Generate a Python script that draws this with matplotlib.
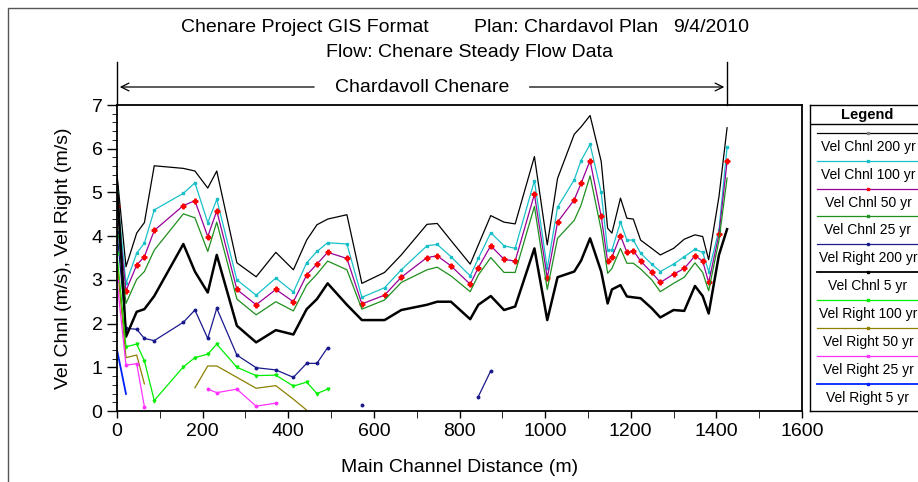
import matplotlib
matplotlib.use("Agg")
import matplotlib.pyplot as plt
from matplotlib.lines import Line2D
import numpy as np

plt.rcParams['font.family'] = ['Liberation Sans', 'DejaVu Sans']

nan = np.nan

# river stations (m)
dist = [0, 21, 46, 64, 87, 155, 182, 212, 233, 280, 325, 371, 412, 443, 467, 492, 537, 572,
        625, 664, 724, 748, 780, 825, 844, 873, 904, 930, 975, 1005, 1029, 1068, 1084, 1105,
        1131, 1146, 1156, 1176, 1191, 1206, 1223, 1249, 1269, 1300, 1325, 1350, 1368, 1382,
        1406, 1425]

chnl_200 = [5.42, 3.30, 4.07, 4.31, 5.61, 5.55, 5.49, 5.10, 5.49, 3.39, 3.07, 3.63, 3.23, 3.91,
            4.26, 4.39, 4.49, 2.92, 3.17, 3.57, 4.27, 4.29, 3.90, 3.36, 3.80, 4.47, 4.32, 4.28,
            5.82, 3.80, 5.32, 6.33, 6.50, 6.76, 5.71, 4.18, 4.07, 4.87, 4.41, 4.39, 3.91, 3.72,
            3.57, 3.72, 3.93, 4.03, 3.99, 3.46, 4.90, 6.48]
chnl_100 = [5.00, 2.92, 3.61, 3.84, 4.60, 4.98, 5.22, 4.31, 4.84, 3.00, 2.65, 3.04, 2.72, 3.39,
            3.65, 3.85, 3.82, 2.60, 2.82, 3.23, 3.78, 3.81, 3.53, 3.09, 3.49, 4.08, 3.78, 3.72,
            5.27, 3.26, 4.66, 5.29, 5.73, 6.10, 5.00, 3.68, 3.68, 4.32, 3.91, 3.91, 3.61, 3.36,
            3.19, 3.36, 3.53, 3.70, 3.63, 3.19, 4.14, 6.03]
chnl_50 = [4.68, 2.75, 3.34, 3.53, 4.13, 4.70, 4.81, 3.99, 4.58, 2.78, 2.43, 2.78, 2.50, 3.11,
           3.36, 3.63, 3.49, 2.45, 2.65, 3.06, 3.51, 3.55, 3.32, 2.90, 3.28, 3.78, 3.47, 3.43,
           4.96, 3.04, 4.32, 4.83, 5.21, 5.73, 4.45, 3.42, 3.52, 4.01, 3.63, 3.67, 3.43, 3.17,
           2.94, 3.13, 3.26, 3.55, 3.43, 2.94, 4.04, 5.71]
chnl_25 = [4.30, 2.46, 3.01, 3.19, 3.68, 4.51, 4.42, 3.65, 4.32, 2.56, 2.20, 2.50, 2.29, 2.88,
           3.13, 3.43, 3.23, 2.33, 2.54, 2.94, 3.23, 3.29, 3.09, 2.73, 3.11, 3.51, 3.17, 3.17,
           4.68, 2.78, 3.95, 4.36, 4.71, 5.38, 4.14, 3.15, 3.26, 3.72, 3.38, 3.38, 3.25, 3.00,
           2.73, 2.92, 3.06, 3.39, 3.17, 2.75, 3.90, 5.33]
chnl_5 = [5.20, 1.70, 2.27, 2.33, 2.63, 3.82, 3.19, 2.71, 3.57, 1.95, 1.57, 1.85, 1.75, 2.33,
          2.56, 2.92, 2.43, 2.08, 2.08, 2.31, 2.43, 2.50, 2.50, 2.10, 2.43, 2.63, 2.31, 2.39,
          3.72, 2.08, 3.06, 3.19, 3.44, 3.95, 3.19, 2.46, 2.78, 2.88, 2.62, 2.60, 2.58, 2.35,
          2.14, 2.31, 2.29, 2.86, 2.63, 2.23, 3.57, 4.16]

# right overbank velocities, nan where no flow
right_200 = ([4.10, 1.89, 1.87, 1.66, 1.61, 2.03, 2.31, 1.66, 2.35, 1.28, 0.99, 0.94, 0.77, 1.09,
              1.09, 1.45, nan, 0.14] + [nan] * 6 + [0.33, 0.92] + [nan] * 24)
right_100 = ([3.60, 1.47, 1.53, 1.15, 0.24, 1.01, 1.22, 1.30, 1.53, 1.00, 0.81, 0.82, 0.57, 0.66,
              0.40, 0.50] + [nan] * 34)
right_50 = ([3.40, 1.22, 1.28, 0.62, nan, nan, 0.53, 1.03, 1.03, 0.77, 0.52, 0.58, 0.27, 0.02]
            + [nan] * 36)
right_25 = ([2.98, 1.05, 1.08, 0.10, nan, nan, nan, 0.50, 0.42, 0.50, 0.11, 0.18] + [nan] * 38)
right_5 = [1.40, 0.39] + [nan] * 48

labels = ['Vel Chnl 200 yr', 'Vel Chnl 100 yr', 'Vel Chnl 50 yr', 'Vel Chnl 25 yr',
          'Vel Right 200 yr', 'Vel Chnl 5 yr', 'Vel Right 100 yr', 'Vel Right 50 yr',
          'Vel Right 25 yr', 'Vel Right 5 yr']
series = [chnl_200, chnl_100, chnl_50, chnl_25, right_200, chnl_5, right_100, right_50,
          right_25, right_5]
colors = ['black', '#19c0c8', '#990099', '#1f8f1f', '#1a1a8c', 'black', '#00ee00', '#8c8000',
          '#ff33ff', '#0022ff']
widths = [0.9, 0.9, 0.9, 0.9, 0.9, 1.8, 0.9, 0.9, 0.9, 1.3]
markers = ['', 's', 'P', '', 'o', '', 'v', '', 'o', '']
mcolors = ['grey', '#19c0c8', 'red', '#1f8f1f', '#1a1a8c', 'black', '#00ee00', '#8c8000',
           '#ff33ff', '#0022ff']
msizes = [0, 1.6, 3.4, 0, 1.8, 0, 2.0, 0, 1.8, 0]

fig = plt.figure(figsize=(9.18, 4.82), dpi=100)
W, H = 918, 482

# outer frame
fig.add_artist(plt.Rectangle((8 / W, -0.1), 1.0, 1 - 8 / H + 0.1, transform=fig.transFigure,
                             fill=False, ec='#555555', lw=1.0))

ax = fig.add_axes([117 / W, 71 / H, 685 / W, 306 / H])
for ys, lab, c, lw, mk, mc, ms in zip(series, labels, colors, widths, markers, mcolors, msizes):
    ax.plot(dist, ys, color=c, lw=lw, marker=mk if mk else None, ms=ms, mfc=mc, mec=mc,
            label=lab, clip_on=True)

ax.set_xlim(0, 1600)
ax.set_ylim(0, 7)
ax.set_xticks(np.arange(0, 1601, 200))
ax.set_xticks(np.arange(0, 1601, 100), minor=True)
ax.set_yticks(np.arange(0, 8, 1))
ax.set_yticks(np.arange(0, 7.01, 0.2), minor=True)
ax.tick_params(axis='both', which='major', direction='out', labelsize=14, width=1.0)
ax.tick_params(axis='x', which='both', length=5)
ax.tick_params(axis='y', which='major', length=7)
ax.tick_params(axis='y', which='minor', length=3.5)
for s in ax.spines.values():
    s.set_linewidth(1.3)
ax.set_xlabel('Main Channel Distance (m)', fontsize=14, labelpad=14)
ax.set_ylabel('Vel Chnl (m/s), Vel Right (m/s)', fontsize=14, labelpad=14)

# reach annotation above the plot
ya = 1 + 18 / 306
reach_start, reach_end = 0, 1425
xt = ax.get_xaxis_transform()
ax.annotate('', xy=(reach_start, ya), xytext=(467, ya), xycoords=xt, textcoords=xt,
            arrowprops=dict(arrowstyle='->', lw=0.9, color='black', mutation_scale=14))
ax.annotate('', xy=(reach_end, ya), xytext=(957, ya), xycoords=xt, textcoords=xt,
            arrowprops=dict(arrowstyle='->', lw=0.9, color='black', mutation_scale=14))
for xv in (reach_start, reach_end):
    ax.plot([xv, xv], [1.0, 1 + 43 / 306], color='black', lw=1.0, transform=xt, clip_on=False)
ax.text((reach_start + reach_end) / 2, ya, 'Chardavoll Chenare', transform=xt, ha='center',
        va='center', fontsize=14)

# title lines
fig.text(181 / W, 1 - 28 / H, 'Chenare Project GIS Format', ha='left', va='center', fontsize=14)
fig.text(474 / W, 1 - 28 / H, 'Plan: Chardavol Plan', ha='left', va='center', fontsize=14)
fig.text(673 / W, 1 - 28 / H, '9/4/2010', ha='left', va='center', fontsize=14)
fig.text(469 / W, 1 - 52 / H, 'Flow: Chenare Steady Flow Data', ha='center', va='center',
         fontsize=14)

# legend drawn as a separate panel
lax = fig.add_axes([810 / W, 71 / H, 118 / W, 306 / H])
lax.set_xlim(0, 118)
lax.set_ylim(306, 0)
lax.set_xticks([])
lax.set_yticks([])
for s in lax.spines.values():
    s.set_linewidth(1.0)
lax.text(57, 9.5, 'Legend', ha='center', va='center', fontsize=10.5, fontweight='bold')
lax.axhline(19, color='black', lw=1.0)
for i, (lab, c, lw, mk, mc) in enumerate(zip(labels, colors, widths, markers, mcolors)):
    yl = 27.7 + i * 27.9
    lax.add_line(Line2D([7, 118], [yl, yl], color=c, lw=min(lw, 1.3)))
    lax.plot([58], [yl], marker='s', ms=1.6, color=mc if mk or i in (0, 5) else c)
    lax.text(58, yl + 14, lab, ha='center', va='center', fontsize=10)

fig.savefig('out.png', dpi=100)
